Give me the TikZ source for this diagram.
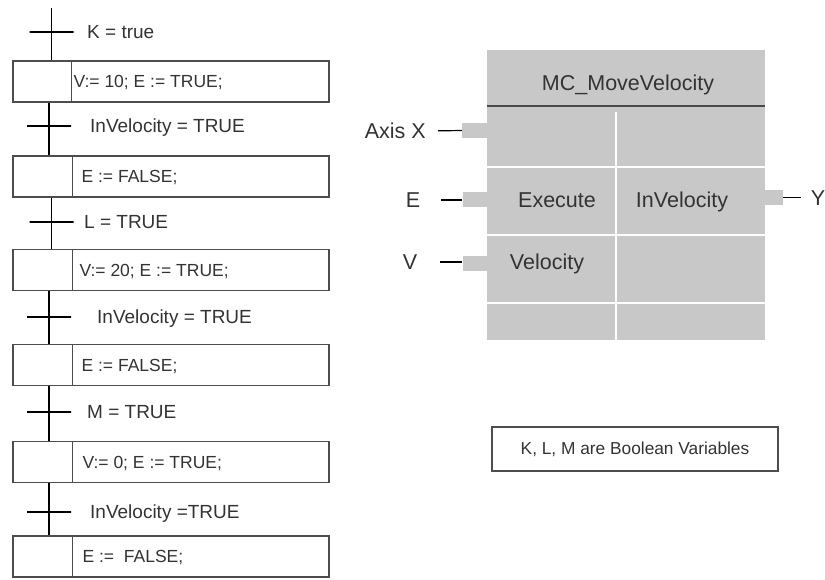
\documentclass[tikz,border=0pt]{standalone}
\usepackage{fontspec}
\setmainfont{Liberation Sans}
\usetikzlibrary{positioning}

\begin{document}
\begin{tikzpicture}[
    x=1pt, y=-1pt,
    every node/.style={text=textgray},
    stepbox/.style={
        draw=boxgray,
        line width=1.3pt,
        minimum width=316pt,
        minimum height=41pt,
        inner sep=0pt,
    },
    bar/.style={draw=black, line width=1.2pt, minimum width=44pt, minimum height=0pt, inner sep=0pt},
    spine/.style={line width=1.2pt, black},
    trans/.style={font=\fontsize{19}{22}\selectfont, anchor=west, inner sep=0pt, text height=13.6pt, text depth=0pt},
    act/.style={font=\fontsize{17.5}{20}\selectfont, anchor=west, inner sep=0pt, text height=12.5pt, text depth=0pt},
    blk/.style={font=\fontsize{21.5}{25}\selectfont, inner sep=0pt, text height=15.4pt, text depth=0pt},
    pin/.style={fill=fbgray, minimum width=25pt, minimum height=15pt, inner sep=0pt},
    pinline/.style={line width=1.2pt, black},
    cell/.style={draw=white, line width=1.6pt},
]

% Colors
\definecolor{textgray}{HTML}{333333}
\definecolor{boxgray}{HTML}{4D4D4D}
\definecolor{fbgray}{HTML}{C8C8C8}
\definecolor{hdrgray}{HTML}{4A4A4A}

\useasboundingbox (0,0) rectangle (825,579);

% SFC: steps
\node[stepbox] (S1) at (171,81.5) {};
\node[stepbox] (S2) at (171,176.5) {};
\node[stepbox] (S3) at (171,270) {};
\node[stepbox] (S4) at (171,365) {};
\node[stepbox] (S5) at (171,462) {};
\node[stepbox] (S6) at (171,556.5) {};

% step dividers
\draw[draw=boxgray, line width=1.3pt] ([xshift=59pt]S1.north west) -- ([xshift=59pt]S1.south west);
\draw[draw=boxgray, line width=1.3pt] ([xshift=60pt]S2.north west) -- ([xshift=60pt]S2.south west);
\draw[draw=boxgray, line width=1.3pt] ([xshift=60pt]S3.north west) -- ([xshift=60pt]S3.south west);
\draw[draw=boxgray, line width=1.3pt] ([xshift=60pt]S4.north west) -- ([xshift=60pt]S4.south west);
\draw[draw=boxgray, line width=1.3pt] ([xshift=60pt]S5.north west) -- ([xshift=60pt]S5.south west);
\draw[draw=boxgray, line width=1.3pt] ([xshift=60pt]S6.north west) -- ([xshift=60pt]S6.south west);

% step actions
\node[act] (A1) at ([xshift=61pt]S1.west) {V:= 10; E := TRUE;};
\node[act] (A2) at ([xshift=69pt]S2.west) {E := FALSE;};
\node[act] (A3) at ([xshift=67pt]S3.west) {V:= 20; E := TRUE;};
\node[act] (A4) at ([xshift=69pt]S4.west) {E := FALSE;};
\node[act] (A5) at ([xshift=70pt]S5.west) {V:= 0; E := TRUE;};
\node[act] (A6) at ([xshift=70pt]S6.west) {E :=\ \ FALSE;};

% SFC: transitions
\node[bar] (T0) at (51.5,32) {};
\node[bar] (T1) at (49,126) {};
\node[bar] (T2) at (51.5,222) {};
\node[bar] (T3) at (49,317) {};
\node[bar] (T4) at (49,412) {};
\node[bar] (T5) at (49,512) {};
\coordinate (top) at (51.5,8);

\node[trans] (C0) at (87,32) {K = true};
\node[trans] (C1) at (90,126) {InVelocity = TRUE};
\node[trans] (C2) at (84,222) {L = TRUE};
\node[trans] (C3) at (97,317) {InVelocity = TRUE};
\node[trans] (C4) at (87,412) {M = TRUE};
\node[trans] (C5) at (90,512) {InVelocity =TRUE};

% spine
\draw[spine] (top) -- (S1.north -| T0);
\draw[spine] (S1.south -| T1) -- (S2.north -| T1);
\draw[spine] (S2.south -| T2) -- (S3.north -| T2);
\draw[spine] (S3.south -| T3) -- (S4.north -| T3);
\draw[spine] (S4.south -| T4) -- (S5.north -| T4);
\draw[spine] (S5.south -| T5) -- (S6.north -| T5);

% Function block
\node[fill=fbgray, minimum width=278pt, minimum height=290pt, inner sep=0pt] (FB) at (626,195) {};
\draw[draw=hdrgray, line width=1.3pt] (FB.west |- 0,106) -- (FB.east |- 0,106);
\draw[cell] (616,112) -- (FB.south -| 616,0);
\draw[cell] (FB.west |- 0,167) -- (FB.east |- 0,167);
\draw[cell] (FB.west |- 0,235) -- (FB.east |- 0,235);
\draw[cell] (FB.west |- 0,303) -- (FB.east |- 0,303);

\node[blk] (title) at (628,83) {MC\_MoveVelocity};
\node[blk] (execute) at (557,200) {Execute};
\node[blk] (invel) at (682,200) {InVelocity};
\node[blk] (velocity) at (547,262) {Velocity};

% pins
\node[pin] (pX) at (474.5,130.5) {};
\node[pin] (pE) at (475,199.5) {};
\node[pin] (pV) at (475,263) {};
\node[pin, minimum width=18pt] (pY) at (774,197.5) {};

\node[blk, anchor=east] (lX) at (426,131) {Axis X};
\node[blk] (lE) at (413,200) {E};
\node[blk] (lV) at (410,262) {V};
\node[blk] (lY) at (818,198) {Y};

\draw[pinline, shorten <=12pt] (lX.east) -- (pX.west);
\draw[pinline, shorten <=21pt] (lE.east) -- (pE.west |- lE.east);
\draw[pinline, shorten <=23pt] (lV.east) -- (pV.west |- lV.east);
\draw[pinline, shorten >=10pt] (pY.east) -- (lY.west |- pY.east);

% Note
\node[draw=boxgray, line width=1.3pt, minimum width=286pt, minimum height=44pt,
      font=\fontsize{17.3}{20}\selectfont] (note) at (635,449) {K, L, M are Boolean Variables};

\end{tikzpicture}
\end{document}
